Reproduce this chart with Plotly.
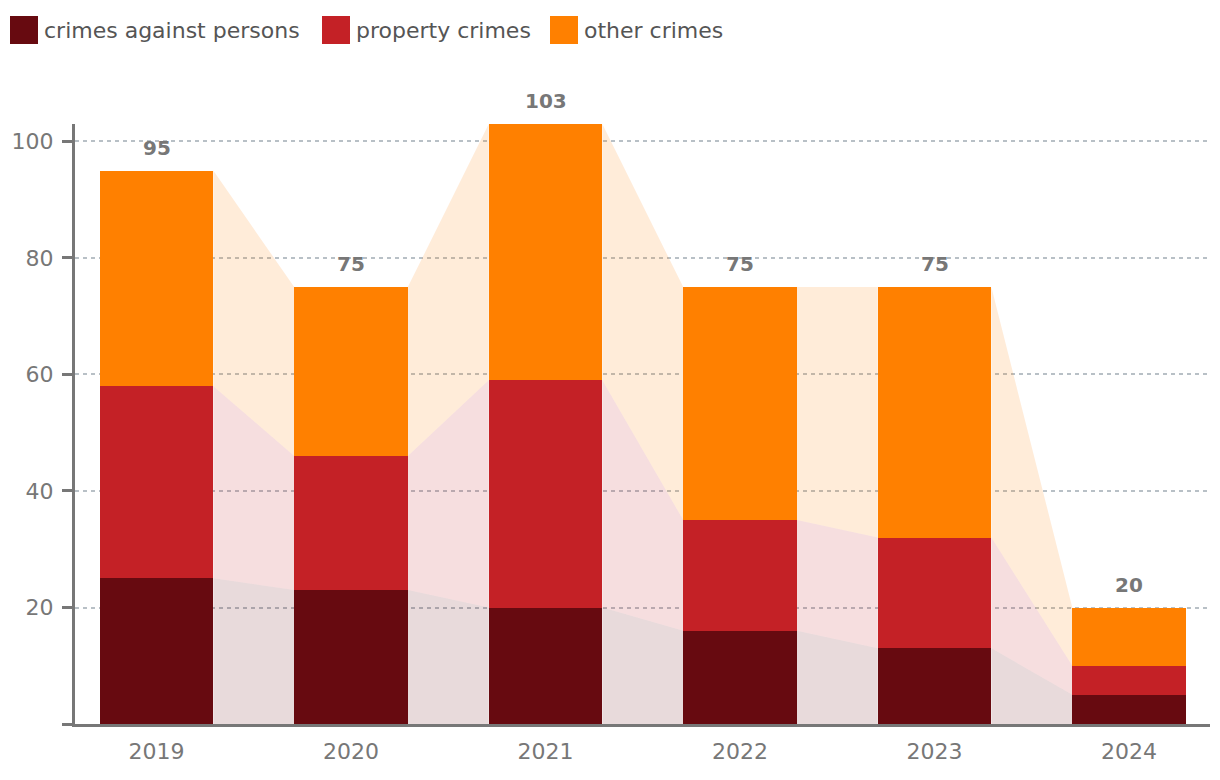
import plotly.graph_objects as go

years = ["2019", "2020", "2021", "2022", "2023", "2024"]
series_names = ["crimes against persons", "property crimes", "other crimes"]
persons = [25, 23, 20, 16, 13, 5]
property_crimes = [33, 23, 39, 19, 19, 5]
other = [37, 29, 44, 40, 43, 10]

colors = ["#670A10", "#C42126", "#FF8000"]
area_colors = ["rgba(103,10,16,0.15)", "rgba(196,33,38,0.15)", "rgba(255,128,0,0.15)"]

# page offset (body margin) compensation: figure drawn 8px from the page corner
OFF = 8
W, H = 1220 - OFF, 780 - OFF
ML, MT = 75 - OFF, 124 - OFF
MR = 10
MB = 56
PW, PH = W - ML - MR, H - MT - MB
BAR_W = 0.584
FONT = "DejaVu Sans"

series = [persons, property_crimes, other]
xs = list(range(len(years)))

# cumulative levels
lower, upper = [], []
acc = [0] * len(years)
for s in series:
    lower.append(acc[:])
    acc = [a + v for a, v in zip(acc, s)]
    upper.append(acc[:])
totals = acc

fig = go.Figure()

# connecting bands between bars
for k in range(len(series)):
    px_, py_ = [], []
    for i in range(len(years) - 1):
        x0 = xs[i] + BAR_W / 2
        x1 = xs[i + 1] - BAR_W / 2
        px_ += [x0, x0, x1, x1, x0, None]
        py_ += [lower[k][i], upper[k][i], upper[k][i + 1], lower[k][i + 1], lower[k][i], None]
    fig.add_trace(go.Scatter(x=px_, y=py_, mode="lines", fill="toself",
                             fillcolor=area_colors[k], line=dict(width=0),
                             hoverinfo="skip", showlegend=False))

for k, s in enumerate(series):
    fig.add_trace(go.Bar(x=xs, y=s, name=series_names[k], width=BAR_W,
                         marker=dict(color=colors[k], line=dict(width=0)),
                         showlegend=False))

# total labels
for i, t in enumerate(totals):
    fig.add_annotation(x=xs[i], y=t, text=f"<b>{t}</b>", showarrow=False,
                       yanchor="bottom", yshift=9,
                       font=dict(family=FONT, size=20, color="#777777"))

# manual legend with large squares (page pixel positions)
def pxx(p):
    return (p - OFF - ML) / PW

def pyy(p):
    return (H - MB - (p - OFF)) / PH

legend_sq_x = [10, 322, 550]
for k, name in enumerate(series_names):
    x0 = legend_sq_x[k]
    fig.add_shape(type="rect", xref="paper", yref="paper",
                  x0=pxx(x0), x1=pxx(x0 + 28), y0=pyy(44), y1=pyy(16),
                  fillcolor=colors[k], line=dict(width=0))
    fig.add_annotation(xref="paper", yref="paper", x=pxx(x0 + 32), y=pyy(31),
                       xanchor="left", yanchor="middle", text=name, showarrow=False,
                       font=dict(family=FONT, size=22, color="#555555"))

fig.update_layout(
    width=W, height=H,
    margin=dict(l=ML, r=MR, t=MT, b=MB, autoexpand=False),
    barmode="stack",
    plot_bgcolor="white", paper_bgcolor="white",
    showlegend=False,
    font=dict(family=FONT, size=22, color="#777777"),
)
fig.update_xaxes(
    range=[-0.419, 5.416], tickvals=xs, ticktext=years, automargin=False,
    showgrid=False, zeroline=False, showline=True, linecolor="#777777", linewidth=3,
    ticks="", ticklabelstandoff=6,
    tickfont=dict(family=FONT, size=22, color="#777777"),
)
fig.update_yaxes(
    range=[0, 103], tickvals=[0, 20, 40, 60, 80, 100], automargin=False,
    ticktext=["", "20", "40", "60", "80", "100"],
    showgrid=True, gridcolor="#B8C0C6", griddash="4px,4px", gridwidth=1.5,
    zeroline=False, showline=True, linecolor="#777777", linewidth=3,
    ticks="outside", ticklen=10, tickwidth=3, tickcolor="#777777",
    ticklabelstandoff=4,
    tickfont=dict(family=FONT, size=22, color="#777777"),
)

fig.write_html("out.html")
